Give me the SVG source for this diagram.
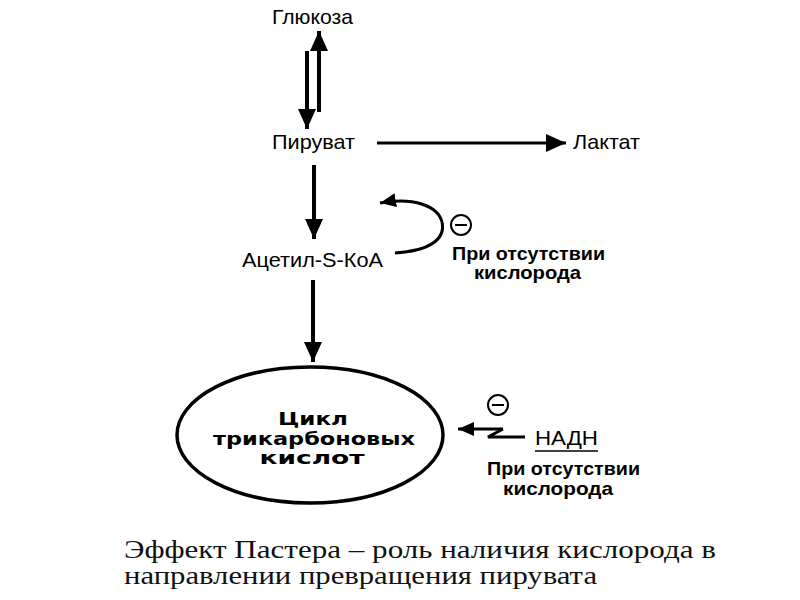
<svg xmlns="http://www.w3.org/2000/svg" width="800" height="600" viewBox="0 0 800 600">
<defs>
<style>
.lbl{font-family:"Liberation Sans",Arial,sans-serif;font-size:21px;fill:#000}
.bold{font-family:"Liberation Sans",Arial,sans-serif;font-size:18.5px;font-weight:bold;fill:#000}
.tca{font-family:"DejaVu Sans","Liberation Sans",sans-serif;font-size:17px;font-weight:bold;fill:#000}
.cap{font-family:"Liberation Serif","Times New Roman",serif;font-size:25px;fill:#111}
.ln{stroke:#000;fill:none;stroke-width:4}
.thin{stroke:#000;fill:none;stroke-width:3}
.minus{stroke:#000;fill:#fff;stroke-width:2}
</style>
<marker id="ah" markerUnits="userSpaceOnUse" markerWidth="20" markerHeight="18" refX="20" refY="9" orient="auto" viewBox="0 0 20 18">
<path d="M0,0 L20,9 L0,18 z" fill="#000"/>
</marker>
<marker id="ahs" markerUnits="userSpaceOnUse" markerWidth="16" markerHeight="14" refX="16" refY="7" orient="auto" viewBox="0 0 16 14">
<path d="M0,0 L16,7 L0,14 z" fill="#000"/>
</marker>
</defs>
<rect width="800" height="600" fill="#fff"/>
<g id="connectors">
<line class="ln" x1="307" y1="51" x2="307" y2="129" marker-end="url(#ah)"/>
<line class="ln" x1="319" y1="112" x2="319" y2="31" marker-end="url(#ah)"/>
<line class="thin" x1="377" y1="143" x2="566" y2="143" marker-end="url(#ah)"/>
<line class="ln" x1="314" y1="165" x2="314" y2="239" marker-end="url(#ah)"/>
<line class="ln" x1="313" y1="280" x2="313" y2="362" marker-end="url(#ah)"/>
<path class="thin" d="M395,253 C428,251 446,240 442,222 C438,206 414,197 380,203" marker-end="url(#ahs)"/>
<path class="thin" d="M503,429 L458,429" marker-end="url(#ahs)"/>
<path class="thin" d="M503,429 L488,437 L525,437"/>
</g>
<g id="glucose"><text class="lbl" x="272" y="24" textLength="81" lengthAdjust="spacingAndGlyphs">Глюкоза</text></g>
<g id="pyruvate"><text class="lbl" x="272" y="149" textLength="83" lengthAdjust="spacingAndGlyphs">Пируват</text></g>
<g id="lactate"><text class="lbl" x="573" y="149" textLength="67" lengthAdjust="spacingAndGlyphs">Лактат</text></g>
<g id="acetyl"><text class="lbl" x="242" y="267" textLength="141" lengthAdjust="spacingAndGlyphs">Ацетил-S-КоА</text></g>
<g id="inhib1">
<circle class="minus" cx="461" cy="225" r="10"/>
<line x1="455" y1="225" x2="467" y2="225" stroke="#000" stroke-width="2"/>
<text class="bold" x="452" y="260" textLength="153" lengthAdjust="spacingAndGlyphs">При отсутствии</text>
<text class="bold" x="474" y="279" textLength="107" lengthAdjust="spacingAndGlyphs">кислорода</text>
</g>
<g id="tca">
<ellipse cx="310" cy="435" rx="133" ry="68" fill="#fff" stroke="#000" stroke-width="3.5"/>
<text class="tca" x="313" y="425" text-anchor="middle" textLength="70" lengthAdjust="spacingAndGlyphs">Цикл</text>
<text class="tca" x="314" y="445" text-anchor="middle" textLength="202" lengthAdjust="spacingAndGlyphs">трикарбоновых</text>
<text class="tca" x="312" y="464" text-anchor="middle" textLength="105" lengthAdjust="spacingAndGlyphs">кислот</text>
</g>
<g id="nadh">
<circle class="minus" cx="498" cy="405" r="10"/>
<line x1="492" y1="405" x2="504" y2="405" stroke="#000" stroke-width="2"/>
<text class="lbl" x="535" y="445" textLength="63" lengthAdjust="spacingAndGlyphs">НАДН</text>
<line x1="535" y1="451" x2="598" y2="451" stroke="#000" stroke-width="1.5"/>
<text class="bold" x="487" y="475" textLength="153" lengthAdjust="spacingAndGlyphs">При отсутствии</text>
<text class="bold" x="503" y="495" textLength="110" lengthAdjust="spacingAndGlyphs">кислорода</text>
</g>
<g id="caption">
<text class="cap" x="124" y="558" textLength="592" lengthAdjust="spacingAndGlyphs">Эффект Пастера – роль наличия кислорода в</text>
<text class="cap" x="124" y="584" textLength="473" lengthAdjust="spacingAndGlyphs">направлении превращения пирувата</text>
</g>
</svg>
